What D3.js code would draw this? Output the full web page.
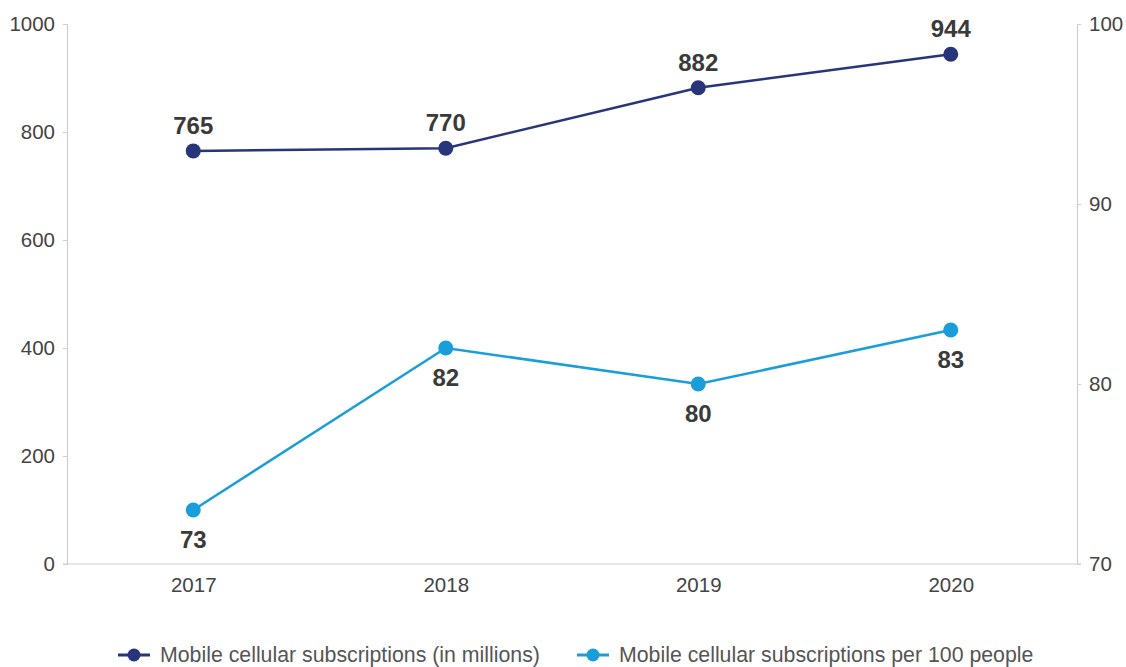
<!DOCTYPE html>
<html><head><meta charset="utf-8">
<script src="https://cdn.jsdelivr.net/npm/d3@7"></script>
<style>body{margin:0;background:#fff;font-family:"Liberation Sans",Arial,sans-serif;}</style>
</head><body>
<svg id="c" width="1126" height="667"></svg>
<script>
const years = ["2017","2018","2019","2020"];
const subscriptions = [765, 770, 882, 944];
const per100 = [73, 82, 80, 83];
const leftTicks = [0,200,400,600,800,1000];
const rightTicks = [70,80,90,100];
const seriesNames = ["Mobile cellular subscriptions (in millions)","Mobile cellular subscriptions per 100 people"];
const colors = ["#28357a","#1a9edb"];

const svg = d3.select("#c");
const m = {l:67, r:1077, t:24, b:564};
const x = d3.scalePoint().domain(years).range([m.l, m.r]).padding(0.5);
const yL = d3.scaleLinear().domain([0,1000]).range([m.b, m.t]);
const yR = d3.scaleLinear().domain([70,100]).range([m.b, m.t]);
const axisCol = "#cfcfcf", textCol = "#444";

const gL = svg.append("g").attr("transform",`translate(${m.l},0)`)
  .call(d3.axisLeft(yL).tickValues(leftTicks).tickFormat(d3.format("d")).tickSize(4).tickPadding(8));
const gR = svg.append("g").attr("transform",`translate(${m.r},0)`)
  .call(d3.axisRight(yR).tickValues(rightTicks).tickFormat(d3.format("d")).tickSize(4).tickPadding(8));
const gX = svg.append("g").attr("transform",`translate(0,${m.b})`)
  .call(d3.axisBottom(x).tickSize(0).tickPadding(13));
gX.select(".domain").attr("d",`M${m.l-4},0H${m.r+4}`);
[gL,gR,gX].forEach(g=>{
  g.selectAll(".domain").attr("stroke",axisCol).attr("stroke-width",1.2);
  g.selectAll(".tick line").attr("stroke",axisCol);
  g.selectAll(".tick text").attr("fill",textCol).style("font-size","20.5px").style("font-family","Liberation Sans, Arial, sans-serif");
});

function drawSeries(vals, y, col, above){
  const line = d3.line().x((d,i)=>x(years[i])).y(d=>y(d));
  svg.append("path").datum(vals).attr("d",line).attr("fill","none").attr("stroke",col).attr("stroke-width",2.5);
  svg.selectAll(null).data(vals).enter().append("circle")
    .attr("cx",(d,i)=>x(years[i])).attr("cy",d=>y(d)).attr("r",7.5).attr("fill",col);
  svg.selectAll(null).data(vals).enter().append("text")
    .attr("x",(d,i)=>x(years[i])).attr("y",d=>y(d)+(above?-17:38))
    .attr("text-anchor","middle").attr("fill","#3a3a3a")
    .style("font-size","24px").style("font-weight","bold").text(d=>d);
}
drawSeries(subscriptions, yL, colors[0], true);
drawSeries(per100, yR, colors[1], false);

const legX = [118, 577];
seriesNames.forEach((n,i)=>{
  const g = svg.append("g").attr("transform",`translate(${legX[i]},655)`);
  g.append("line").attr("x1",0).attr("x2",32).attr("stroke",colors[i]).attr("stroke-width",3);
  g.append("circle").attr("cx",16).attr("r",6.5).attr("fill",colors[i]);
  g.append("text").attr("x",42).attr("y",7).attr("fill","#555").style("font-size","21.3px").text(n);
});
</script>
</body></html>
